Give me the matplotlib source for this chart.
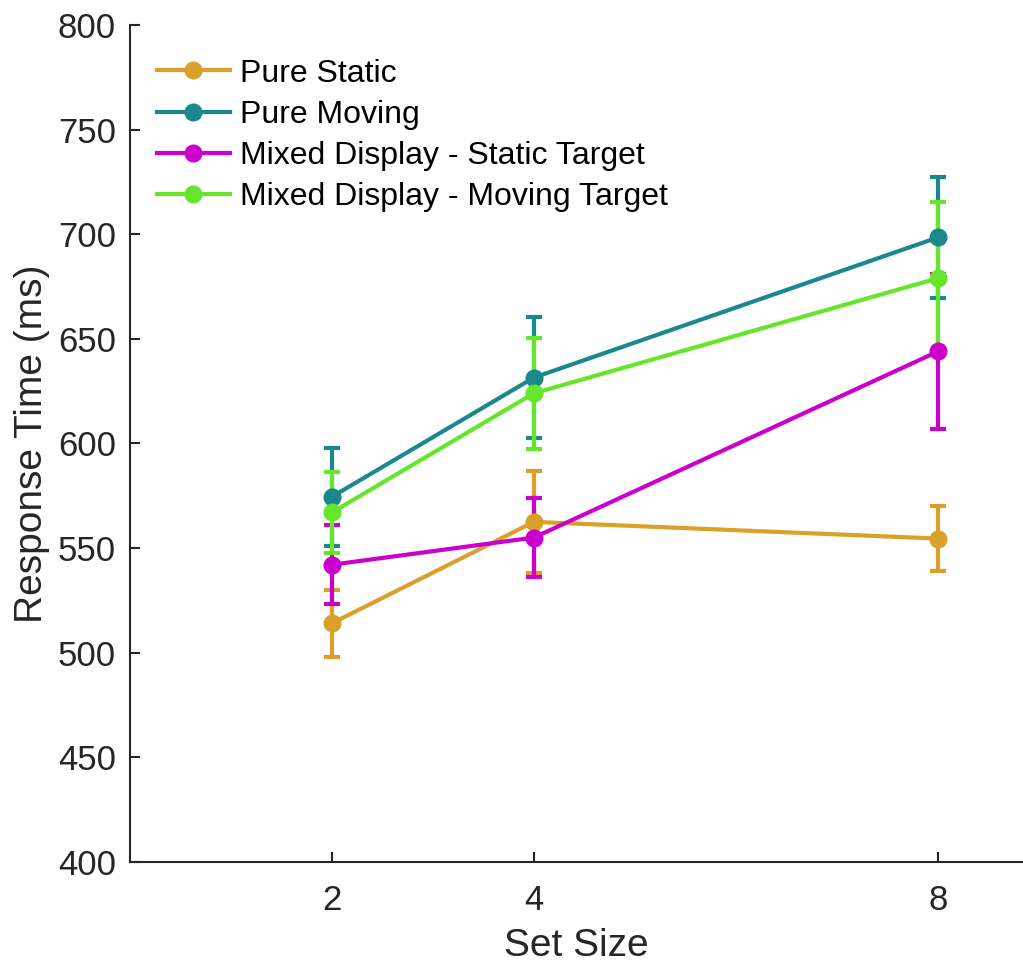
import matplotlib
matplotlib.use('Agg')
import matplotlib.pyplot as plt
from matplotlib.lines import Line2D

plt.rcParams['font.family'] = ['Liberation Sans', 'DejaVu Sans']

set_size = [2, 4, 8]
labels = ['Pure Static', 'Pure Moving', 'Mixed Display - Static Target', 'Mixed Display - Moving Target']
colors = ['#DAA02A', '#1A888D', '#CC00CC', '#66E62A']

pure_static = [514, 562.5, 554.5]
pure_static_err = [16, 24.5, 15.5]
pure_moving = [574.5, 631.5, 698.5]
pure_moving_err = [23.5, 29, 29]
mixed_static = [542, 555, 644]
mixed_static_err = [19, 19, 37]
mixed_moving = [567, 624, 679]
mixed_moving_err = [19.5, 26.5, 36.5]

means = [pure_static, pure_moving, mixed_static, mixed_moving]
errs = [pure_static_err, pure_moving_err, mixed_static_err, mixed_moving_err]

fig = plt.figure(figsize=(10.23, 9.65), dpi=100)
ax = fig.add_axes([0.127, 0.107, 0.873, 0.867])

handles = []
for m, e, c, lab in zip(means, errs, colors, labels):
    ax.errorbar(set_size, m, yerr=e, color=c, lw=3.0, marker='o', ms=12,
                capsize=6, capthick=3.0, elinewidth=3.0)
    handles.append(Line2D([], [], color=c, lw=3.0, marker='o', ms=12))

ax.set_xlim(0, 8.84)
ax.set_ylim(400, 800)
ax.set_xticks(set_size)
ax.set_yticks(range(400, 801, 50))
ax.tick_params(direction='in', length=7, width=1.5, labelsize=25, colors='#262626')
ax.tick_params(axis='y', pad=10)
ax.tick_params(axis='x', pad=16)
for s in ['top', 'right']:
    ax.spines[s].set_visible(False)
for s in ['left', 'bottom']:
    ax.spines[s].set_color('#262626')
    ax.spines[s].set_linewidth(1.5)

ax.set_xlabel('Set Size', fontsize=28, color='#262626', labelpad=8)
ax.set_ylabel('Response Time (ms)', fontsize=28, color='#262626', labelpad=6)

ax.legend(handles, labels, loc='upper left', bbox_to_anchor=(0.012, 0.979), frameon=False,
          fontsize=23, handlelength=2.3, handletextpad=0.3, labelspacing=0.35, borderpad=0)

fig.savefig('out.png', dpi=100)
